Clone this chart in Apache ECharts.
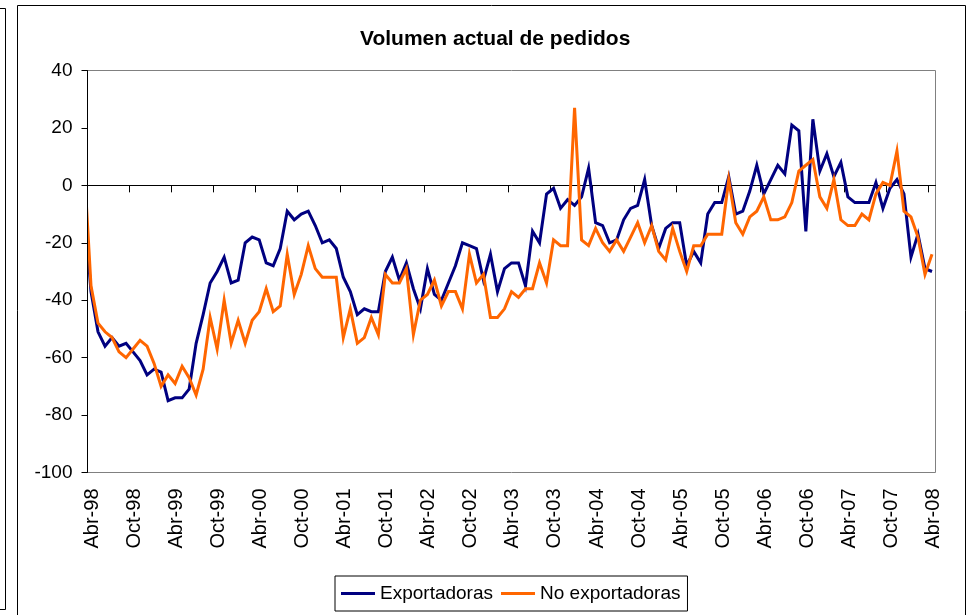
<!DOCTYPE html>
<html>
<head>
<meta charset="utf-8">
<script src="https://cdn.jsdelivr.net/npm/echarts@6/dist/echarts.min.js"></script>
<style>
  html, body { margin: 0; padding: 0; background: #ffffff; }
  #chart { width: 969px; height: 615px; }
</style>
</head>
<body>
<div id="chart"></div>
<script>
// Monthly values, first entry = Mar-98 (hidden left of the axis), last = Abr-08
var exportadoras = [
  -7, -37, -51, -56, -53, -56, -55, -58, -61, -66, -64, -65, -75, -74, -74, -71,
  -55, -45, -34, -30, -25, -34, -33, -20, -18, -19, -27, -28, -22, -9, -12, -10,
  -9, -14, -20, -19, -22, -32, -37, -45, -43, -44, -44, -30, -25, -33, -27, -36,
  -43, -29, -38, -40, -34, -28, -20, -21, -22, -33, -24, -37, -29, -27, -27, -35,
  -16, -20, -3, -1, -8, -5, -7, -4, 6, -13, -14, -20, -19, -12, -8, -7,
  2, -14, -22, -15, -13, -13, -28, -23, -27, -10, -6, -6, 3, -10, -9, -2,
  7, -3, 2, 7, 4, 21, 19, -16, 23, 5, 11, 3, 8, -4, -6, -6,
  -6, 1, -8, -1, 2, -3, -25, -17, -29, -30
];
var noExportadoras = [
  8, -35, -48, -51, -53, -58, -60, -57, -54, -56, -62, -70, -66, -69, -63, -67,
  -73, -64, -46, -57, -40, -55, -47, -55, -47, -44, -36, -44, -42, -24, -38, -31,
  -21, -29, -32, -32, -32, -53, -43, -55, -53, -46, -52, -31, -34, -34, -29, -52,
  -40, -38, -33, -42, -37, -37, -43, -24, -34, -31, -46, -46, -43, -37, -39, -36,
  -36, -27, -34, -19, -21, -21, 27, -19, -21, -15, -20, -23, -19, -23, -18, -13,
  -20, -14, -23, -26, -15, -23, -30, -21, -21, -17, -17, -17, 2, -13, -17, -11,
  -9, -4, -12, -12, -11, -6, 5, 7, 9, -4, -8, 2, -12, -14, -14, -10,
  -12, -3, 1, 0, 12, -9, -11, -18, -31, -24
];
var tickLabels = ['Abr-98','Oct-98','Abr-99','Oct-99','Abr-00','Oct-00','Abr-01','Oct-01',
  'Abr-02','Oct-02','Abr-03','Oct-03','Abr-04','Oct-04','Abr-05','Oct-05','Abr-06',
  'Oct-06','Abr-07','Oct-07','Abr-08'];
var seriesNames = ['Exportadoras', 'No exportadoras'];

// months counted from 1-Abr-98; each value sits mid-month; index 0 is Mar-98
function toPoints(arr) {
  return arr.map(function (v, i) { return [i - 0.5, v]; });
}
var tickValues = tickLabels.map(function (t, j) { return j * 6; });
var labelValues = tickLabels.map(function (t, j) { return j * 6 + 0.7; });

var FONT = '"Liberation Sans", Arial, sans-serif';
var chart = echarts.init(document.getElementById('chart'), null, { renderer: 'canvas' });
chart.setOption({
  animation: false,
  backgroundColor: '#ffffff',
  title: {
    text: 'Volumen actual de pedidos',
    left: 360, top: 29, padding: 0,
    textStyle: { fontFamily: FONT, fontSize: 21, fontWeight: 'bold', color: '#000' }
  },
  legend: {
    left: 335, top: 576,
    padding: [8, 7, 8, 6],
    itemGap: 8,
    itemWidth: 34, itemHeight: 3,
    borderColor: '#000', borderWidth: 1,
    icon: 'rect',
    textStyle: { fontFamily: FONT, fontSize: 19, color: '#000' },
    data: seriesNames
  },
  grid: {
    left: 87.5, top: 70.5, width: 848, height: 402,
    show: true, borderColor: '#808080', borderWidth: 1, backgroundColor: 'transparent'
  },
  xAxis: [{
    type: 'value', min: 0, max: 121, interval: 6,
    axisLine: { onZero: true, lineStyle: { color: '#000', width: 1 } },
    axisTick: { show: true, length: 7, customValues: tickValues, lineStyle: { color: '#000' } },
    axisLabel: { show: false },
    splitLine: { show: false }
  }, {
    type: 'value', min: 0, max: 121, interval: 6, position: 'bottom',
    axisLine: { show: false, onZero: false },
    axisTick: { show: false },
    splitLine: { show: false },
    axisLabel: {
      show: true, rotate: 90, margin: 16, customValues: labelValues,
      showMaxLabel: true, showMinLabel: true,
      fontFamily: FONT, fontSize: 20, color: '#000',
      formatter: function (v) {
        var j = Math.round((v - 0.6) / 6);
        return tickLabels[j] || '';
      }
    }
  }],
  yAxis: {
    type: 'value', min: -100, max: 40, interval: 20, z: 10,
    axisLine: { show: true, onZero: false, lineStyle: { color: '#000', width: 1 } },
    axisTick: { show: true, length: 6, lineStyle: { color: '#000' } },
    splitLine: { show: false },
    axisLabel: { margin: 15, fontFamily: FONT, fontSize: 19, color: '#000' }
  },
  series: [{
    name: seriesNames[0], type: 'line', xAxisIndex: 0,
    data: toPoints(exportadoras), showSymbol: false, symbol: 'none', clip: true,
    itemStyle: { color: '#000080' },
    lineStyle: { color: '#000080', width: 3, join: 'miter' }
  }, {
    name: seriesNames[1], type: 'line', xAxisIndex: 0,
    data: toPoints(noExportadoras), showSymbol: false, symbol: 'none', clip: true,
    itemStyle: { color: '#FF6600' },
    lineStyle: { color: '#FF6600', width: 3, join: 'miter' }
  }],
  graphic: [{
    // white mask left of the value axis (the axis itself is drawn above it)
    type: 'rect', silent: true, z: 5,
    shape: { x: 60, y: 60, width: 28, height: 420 },
    style: { fill: '#ffffff', stroke: null }
  }, {
    type: 'rect', silent: true, z: 6,
    shape: { x: 17.5, y: 5.5, width: 948, height: 620 },
    style: { fill: null, stroke: '#000', lineWidth: 1 }
  }, {
    type: 'polyline', silent: true, z: 6,
    shape: { points: [[0, 8.5], [5.5, 8.5], [5.5, 609.5], [0, 609.5]] },
    style: { fill: null, stroke: '#000', lineWidth: 1 }
  }]
});
</script>
</body>
</html>
